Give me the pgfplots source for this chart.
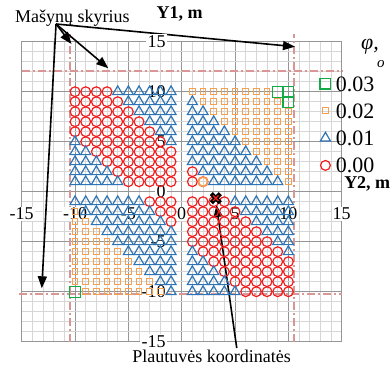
\documentclass[border=0pt]{standalone}
\usepackage{pgfplots}
\pgfplotsset{compat=1.18}
\usepackage{fontspec}
\setmainfont{Liberation Serif}
\usetikzlibrary{arrows.meta}

\definecolor{gridmajor}{RGB}{150,150,150}
\definecolor{gridminor}{RGB}{214,214,214}
\definecolor{zeroRed}{RGB}{240,30,30}
\definecolor{oneBlue}{RGB}{46,117,182}
\definecolor{twoOrange}{RGB}{244,160,80}
\definecolor{threeGreen}{RGB}{20,170,70}
\definecolor{roomLine}{RGB}{217,150,148}

\newcommand{\fs}[1]{\fontsize{#1}{#1}\selectfont}

\pgfplotsset{
  legmark/.style={only marks,
    legend image code/.code={\draw[##1] plot coordinates {(0pt,0pt)};}},
  room/.style={roomLine, line width=1.8pt, dash pattern=on 8pt off 3pt on 2pt off 3pt, forget plot},
}
\tikzset{
  arr/.style={black, line width=1.6pt, -{Triangle[length=12pt,width=9pt]}},
  tlx/.style={fill=white, inner sep=1.2pt, font=\fs{18}},
  tly/.style={fill=white, inner sep=1.2pt, font=\fs{18}, anchor=east},
}

\begin{document}
\begin{tikzpicture}
\begin{axis}[
  scale only axis, width=320pt, height=300pt,
  xmin=-15, xmax=15, ymin=-15, ymax=15,
  xtick={-15,-10,...,15}, ytick={-15,-10,...,15},
  minor tick num=4,
  grid=both,
  major grid style={draw=gridmajor, line width=0.9pt},
  minor grid style={draw=gridminor, line width=0.7pt},
  axis line style={draw=gridmajor, line width=0.9pt},
  tick style={draw=none},
  xticklabels={}, yticklabels={},
  clip=false,
  reverse legend,
  legend cell align=left,
  legend style={at={(axis cs:12.97,11.57)}, anchor=north west,
    draw=none, fill=none, inner sep=0pt, outer sep=0pt,
    font=\fs{22}, row sep=12.3pt,
    nodes={inner sep=0pt, text height=15pt, text depth=0pt, anchor=west},
    /tikz/every odd column/.append style={column sep=5pt}},
]

% engine room boundaries
\addplot[room] coordinates {(-10.5,-15) (-10.5,15.8)};
\addplot[room] coordinates {(10.5,-15) (10.5,15.8)};
\addplot[room] coordinates {(-15,12.1) (15.1,12.1)};
\addplot[room] coordinates {(-15.3,-10.2) (15,-10.2)};

% phi = 0.00
\addplot[legmark, mark=o, mark size=4.9pt, zeroRed, line width=1.2pt] coordinates {
(-10,10) (-9,10) (-8,10) (-7,10)
(-10,9) (-9,9) (-8,9) (-7,9) (-6,9)
(-10,8) (-9,8) (-8,8) (-7,8) (-6,8) (-5,8)
(-10,7) (-9,7) (-8,7) (-7,7) (-6,7) (-5,7) (-4,7)
(-10,6) (-9,6) (-8,6) (-7,6) (-6,6) (-5,6) (-4,6) (-3,6)
(-9,5) (-8,5) (-7,5) (-6,5) (-5,5) (-4,5) (-3,5) (-2,5)
(-8,4) (-7,4) (-6,4) (-5,4) (-4,4) (-3,4) (-2,4) (-1,4)
(-7,3) (-6,3) (-5,3) (-4,3) (-3,3) (-2,3) (-1,3)
(-6,2) (-5,2) (-4,2) (-3,2) (-2,2) (-1,2)
(-5,1) (-4,1) (-3,1) (-2,1) (-1,1)
(1,2) (1,1) (2,1)
(-3,-1) (-2,-1) (-1,-1) (-2,-2) (-1,-2) (-1,-3)
(1,-1) (2,-1) (3,-1) (4,-1)
(1,-2) (2,-2) (3,-2) (4,-2) (5,-2)
(1,-3) (2,-3) (3,-3) (4,-3) (5,-3) (6,-3)
(1,-4) (2,-4) (3,-4) (4,-4) (5,-4) (6,-4) (7,-4)
(1,-5) (2,-5) (3,-5) (4,-5) (5,-5) (6,-5) (7,-5) (8,-5)
(2,-6) (3,-6) (4,-6) (5,-6) (6,-6) (7,-6) (8,-6) (9,-6)
(3,-7) (4,-7) (5,-7) (6,-7) (7,-7) (8,-7) (9,-7) (10,-7)
(4,-8) (5,-8) (6,-8) (7,-8) (8,-8) (9,-8) (10,-8)
(5,-9) (6,-9) (7,-9) (8,-9) (9,-9) (10,-9)
(6,-10) (7,-10) (8,-10) (9,-10) (10,-10)
};
\addlegendentry{0.00}

% phi = 0.01
\addplot[legmark, mark=triangle, mark size=5.8pt, oneBlue, line width=1.2pt] coordinates {
(-6,10) (-5,10) (-4,10) (-3,10) (-2,10) (-1,10)
(-5,9) (-4,9) (-3,9) (-2,9) (-1,9)
(-4,8) (-3,8) (-2,8) (-1,8)
(-3,7) (-2,7) (-1,7)
(-2,6) (-1,6)
(-10,5) (-1,5)
(-10,4) (-9,4)
(-10,3) (-9,3) (-8,3)
(-10,2) (-9,2) (-8,2) (-7,2)
(-10,1) (-9,1) (-8,1) (-7,1) (-6,1)
(1,9)
(1,8) (2,8)
(1,7) (2,7) (3,7)
(1,6) (2,6) (3,6) (4,6)
(1,5) (2,5) (3,5) (4,5) (5,5)
(1,4) (2,4) (3,4) (4,4) (5,4) (6,4)
(1,3) (2,3) (3,3) (4,3) (5,3) (6,3) (7,3)
(2,2) (3,2) (4,2) (5,2) (6,2) (7,2) (8,2)
(3,1) (4,1) (5,1) (6,1) (7,1) (8,1) (9,1)
(-10,-1) (-9,-1) (-8,-1) (-7,-1) (-6,-1) (-5,-1) (-4,-1)
(-9,-2) (-8,-2) (-7,-2) (-6,-2) (-5,-2) (-4,-2) (-3,-2)
(-8,-3) (-7,-3) (-6,-3) (-5,-3) (-4,-3) (-3,-3) (-2,-3)
(-7,-4) (-6,-4) (-5,-4) (-4,-4) (-3,-4) (-2,-4) (-1,-4)
(-6,-5) (-5,-5) (-4,-5) (-3,-5) (-2,-5) (-1,-5)
(-5,-6) (-4,-6) (-3,-6) (-2,-6) (-1,-6)
(-4,-7) (-3,-7) (-2,-7) (-1,-7)
(-3,-8) (-2,-8) (-1,-8)
(-2,-9) (-1,-9)
(-1,-10)
(5,-1) (6,-1) (7,-1) (8,-1) (9,-1) (10,-1)
(6,-2) (7,-2) (8,-2) (9,-2) (10,-2)
(7,-3) (8,-3) (9,-3) (10,-3)
(8,-4) (9,-4) (10,-4)
(9,-5) (10,-5)
(1,-6) (10,-6)
(1,-7) (2,-7)
(1,-8) (2,-8) (3,-8)
(1,-9) (2,-9) (3,-9) (4,-9)
(1,-10) (2,-10) (3,-10) (4,-10) (5,-10)
};
\addlegendentry{0.01}

% phi = 0.02
\addplot[legmark, mark=square, mark size=2.9pt, twoOrange, line width=1.1pt] coordinates {
(1,10) (2,10) (3,10) (4,10) (5,10) (6,10) (7,10) (8,10)
(2,9) (3,9) (4,9) (5,9) (6,9) (7,9) (8,9) (9,9)
(3,8) (4,8) (5,8) (6,8) (7,8) (8,8) (9,8) (10,8)
(4,7) (5,7) (6,7) (7,7) (8,7) (9,7) (10,7)
(5,6) (6,6) (7,6) (8,6) (9,6) (10,6)
(6,5) (7,5) (8,5) (9,5) (10,5)
(7,4) (8,4) (9,4) (10,4)
(8,3) (9,3) (10,3)
(9,2) (10,2)
(10,1)
(-10,-2)
(-10,-3) (-9,-3)
(-10,-4) (-9,-4) (-8,-4)
(-10,-5) (-9,-5) (-8,-5) (-7,-5)
(-10,-6) (-9,-6) (-8,-6) (-7,-6) (-6,-6)
(-10,-7) (-9,-7) (-8,-7) (-7,-7) (-6,-7) (-5,-7)
(-10,-8) (-9,-8) (-8,-8) (-7,-8) (-6,-8) (-5,-8) (-4,-8)
(-10,-9) (-9,-9) (-8,-9) (-7,-9) (-6,-9) (-5,-9) (-4,-9) (-3,-9)
(-9,-10) (-8,-10) (-7,-10) (-6,-10) (-5,-10) (-4,-10) (-3,-10) (-2,-10)
};
\addlegendentry{0.02}

% phi = 0.03
\addplot[legmark, mark=square, mark size=5.4pt, threeGreen, line width=1.2pt] coordinates {
(9,10) (10,10) (10,9) (-10,-10)
};
\addlegendentry{0.03}

% highlighted cell near the washer
\addplot[only marks, mark=o, mark size=4.6pt, twoOrange, line width=1.6pt, forget plot] coordinates {(2,1)};

% washer position
\addplot[only marks, mark=x, mark size=6.4pt, black, line width=4.4pt, forget plot] coordinates {(3.2,-0.65)};
\addplot[only marks, mark=x, mark size=3.8pt, zeroRed, line width=1.3pt, forget plot] coordinates {(3.2,-0.65)};

% annotations
\draw[arr] (axis cs:-11.78,16.77) -- (axis cs:10.62,14.5);
\draw[arr] (axis cs:-11.78,16.77) -- (axis cs:-10.33,14.77);
\draw[arr] (axis cs:-11.78,16.77) -- (axis cs:-6.88,12.34);
\draw[arr] (axis cs:-11.78,16.77) -- (axis cs:-13.12,-9.66);
\draw[arr] (axis cs:5.16,-15.63) -- (axis cs:3.26,-1.33);

% tick labels
\node[tlx] at (axis cs:-15,-2.23) {-15};
\node[tlx] at (axis cs:-10,-2.23) {-10};
\node[tlx] at (axis cs:-5,-2.23) {-5};
\node[tlx] at (axis cs:0,-2.23) {0};
\node[tlx] at (axis cs:5,-2.23) {5};
\node[tlx] at (axis cs:10,-2.23) {10};
\node[tlx] at (axis cs:15,-2.23) {15};
\node[tly] at (axis cs:-1.38,15) {15};
\node[tly] at (axis cs:-1.38,10) {10};
\node[tly] at (axis cs:-1.38,5) {5};
\node[tly] at (axis cs:-1.38,0) {0};
\node[tly] at (axis cs:-1.38,-5) {-5};
\node[tly] at (axis cs:-1.38,-10) {-10};
\node[tly] at (axis cs:-1.38,-15) {-15};

% titles
\node[anchor=base west, font=\fs{18}] at (axis cs:-15.94,16.94) {Mašynų skyrius};
\node[anchor=base west, font=\bfseries\fs{18}] at (axis cs:-2.69,17.27) {Y1, m};
\node[anchor=base west, inner sep=0pt, font=\bfseries\fs{18}] at (axis cs:15.22,0.34) {Y2, m};
\node[anchor=base west, inner sep=0pt, font=\itshape\fs{22}] at (axis cs:16.8,14.27) {φ,};
\node[anchor=base west, inner sep=0pt, font=\itshape\fs{15}] at (axis cs:18.31,12.47) {o};
\node[anchor=base, inner sep=0pt, font=\fs{18}] at (axis cs:2.81,-17.05) {Plautuvės koordinatės};
\end{axis}
\pgfresetboundingbox
\path (-21.7pt,-23.3pt) rectangle (369.3pt,341.7pt);
\end{tikzpicture}
\end{document}
